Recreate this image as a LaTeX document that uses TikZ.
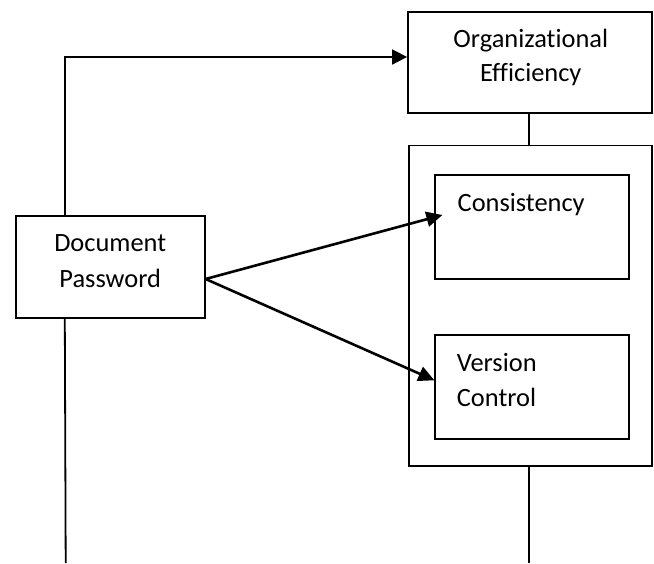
\documentclass[tikz,border=0pt]{standalone}
\usepackage{fontspec}
\setmainfont{Carlito}[Ligatures=NoCommon]
\usetikzlibrary{arrows.meta,calc}

\tikzset{
  box/.style={draw=black, line width=1.8pt, fill=white, inner sep=0pt},
  txt/.style={inner sep=0pt, font=\fontsize{26.4}{34}\selectfont, text=black},
  link/.style={draw=black, line width=1.8pt},
  arr/.style={draw=black, line width=2.6pt, -{Triangle[length=16pt,width=15pt]}},
  hookarr/.style={draw=black, line width=1.8pt, -{Triangle[length=15pt,width=15pt]}},
}

\begin{document}
\begin{tikzpicture}[x=1pt,y=-1pt]
  \useasboundingbox (0,0) rectangle (654,563);

  % boxes
  \node[box, minimum width=244pt, minimum height=101pt] (org) at (530,62.5) {};
  \node[box, minimum width=243pt, minimum height=320.5pt] (outer) at (530.5,305.75) {};
  \node[box, minimum width=194pt, minimum height=104pt] (cons) at (532.3,227) {};
  \node[box, minimum width=194pt, minimum height=104pt] (ver) at (532.3,387.3) {};
  \node[box, minimum width=189pt, minimum height=102pt] (dp) at (110.2,266.7) {};

  % labels
  \node[txt, anchor=base] at (530.8,47.7) {Organizational};
  \node[txt, anchor=base] at (530.8,81.7) {Efficiency};
  \node[txt, anchor=base] at (110.2,251.7) {Document};
  \node[txt, anchor=base] at (110.2,287.3) {Password};
  \node[txt, anchor=base west] at (457.5,211.3) {Consistency};
  \node[txt, anchor=base west] at (456.7,371.7) {Version};
  \node[txt, anchor=base west] at (456.7,406.5) {Control};

  % free ends at the lower edge
  \coordinate (dpEnd) at (65.7,563);
  \coordinate (outerEnd) at (528.8,563);

  % connectors
  \draw[hookarr] ([xshift=50pt]dp.north west) |- ([yshift=5.5pt]org.west);
  \draw[link] ([xshift=50pt]dp.south west) -- (dpEnd);
  \draw[link] ([xshift=-1.3pt]org.south) -- ([xshift=-1.8pt]outer.north);
  \draw[link] ([xshift=-1.7pt]outer.south) -- (outerEnd);
  \draw[arr] ([yshift=-12.3pt]dp.east) -- ([xshift=8pt,yshift=12pt]cons.west);
  \draw[arr] ([yshift=-12.3pt]dp.east) -- ([yshift=7pt]ver.west);
\end{tikzpicture}
\end{document}
